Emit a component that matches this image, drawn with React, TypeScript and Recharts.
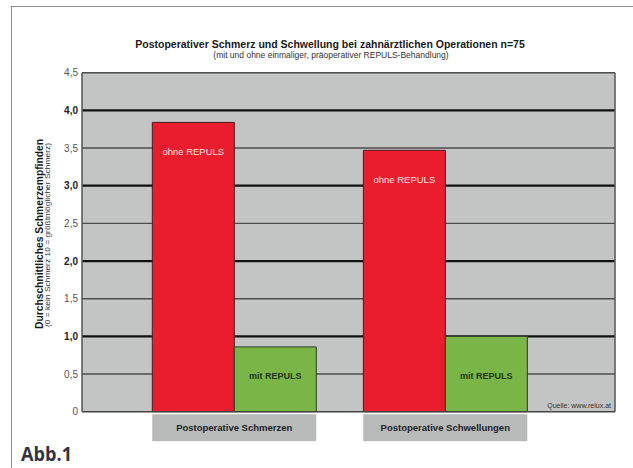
import React from 'react';
import { BarChart, Bar, XAxis, YAxis, CartesianGrid, LabelList } from 'recharts';

const categories = ['Postoperative Schmerzen', 'Postoperative Schwellungen'];
const ohneRepuls = [3.84, 3.47];
const mitRepuls = [0.86, 1.0];
const yTicks = [0, 0.5, 1, 1.5, 2, 2.5, 3, 3.5, 4, 4.5];
const majorTicks = [1, 2, 3, 4];
const minorTicks = [0.5, 1.5, 2.5, 3.5, 4.5];

const data = categories.map((name, i) => ({
  name,
  ohne: ohneRepuls[i],
  mit: mitRepuls[i],
}));

const FONT = '"Liberation Sans", Arial, Helvetica, sans-serif';

const fmt = (v: number) => (v === 0 ? '0' : v.toFixed(1).replace('.', ','));

const YTick = (props: any) => {
  const { x, y, payload } = props;
  const v = payload.value;
  const bold = Number.isInteger(v) && v !== 0;
  return (
    <text
      x={x}
      y={y}
      dy={3.5}
      textAnchor="end"
      fontFamily={FONT}
      fontSize={10}
      fontWeight={bold ? 'bold' : 'normal'}
      fill={bold ? '#1e1e1e' : '#555'}
    >
      {fmt(v)}
    </text>
  );
};

const XTick = (props: any) => {
  const { x, y, payload } = props;
  return (
    <g>
      <rect x={x - 82} y={y + 2.5} width={164} height={27} fill="#b8baba" />
      <text
        x={x}
        y={y + 16}
        dominantBaseline="central"
        textAnchor="middle"
        fontFamily={FONT}
        fontSize={9.5}
        fontWeight="bold"
        fill="#222"
      >
        {payload.value}
      </text>
    </g>
  );
};

const ohneLabel = (props: any) => {
  const { x, y, width } = props;
  return (
    <text
      x={x + width / 2}
      y={y + 29}
      dominantBaseline="central"
      textAnchor="middle"
      fontFamily={FONT}
      fontSize={9.5}
      fill="#fbe3e3"
    >
      ohne REPULS
    </text>
  );
};

const mitLabel = (props: any) => {
  const { x, y, width, height } = props;
  return (
    <text
      x={x + width / 2}
      y={y + height - 35.5}
      dominantBaseline="central"
      textAnchor="middle"
      fontFamily={FONT}
      fontSize={9}
      fontWeight="bold"
      fill="#1d3510"
    >
      mit REPULS
    </text>
  );
};

export default function App() {
  return (
    <div style={{ position: 'absolute', left: 0, top: 0, width: 633, height: 468, background: '#fff' }}>
      <BarChart
        width={633}
        height={468}
        data={data}
        margin={{ top: 72.7, right: 18, bottom: 0, left: 22 }}
        barCategoryGap={23.6}
        barGap={0}
      >
        <CartesianGrid
          fill="#c3c5c4"
          vertical={false}
          stroke="#4d4d4d"
          strokeWidth={1.4}
          strokeOpacity={1}
          horizontalValues={minorTicks}
        />
        <CartesianGrid
          vertical={false}
          stroke="#111"
          strokeWidth={2.2}
          horizontalValues={majorTicks}
        />
        <CartesianGrid
          horizontal={false}
          stroke="#555"
          strokeWidth={1.5}
          verticalCoordinatesGenerator={({ offset }: any) => [offset.left + offset.width]}
        />
        <XAxis
          dataKey="name"
          tickSize={0}
          tickMargin={0}
          padding={{ left: 46.7, right: 64.2 }}
          axisLine={{ stroke: '#444', strokeWidth: 1.5 }}
          tick={<XTick />}
          interval={0}
          height={56.3}
        />
        <YAxis
          domain={[0, 4.5]}
          ticks={yTicks}
          width={60}
          tickSize={0}
          tickMargin={4}
          axisLine={{ stroke: '#555', strokeWidth: 1.5 }}
          tick={<YTick />}
          interval={0}
        />
        <Bar dataKey="ohne" fill="#ea1d2f" stroke="#4a1a1a" strokeWidth={1} isAnimationActive={false}>
          <LabelList content={ohneLabel} />
        </Bar>
        <Bar dataKey="mit" fill="#7ab547" stroke="#2e3a24" strokeWidth={1} isAnimationActive={false}>
          <LabelList content={mitLabel} />
        </Bar>
      </BarChart>
      <svg
        width={633}
        height={468}
        style={{ position: 'absolute', left: 0, top: 0, pointerEvents: 'none' }}
        fontFamily={FONT}
      >
        <path d="M10.5,6.5 H633 M11.5,6.5 V468" stroke="#8c8c8c" strokeWidth={1} fill="none" />
        <text x={330} y={43.5} dominantBaseline="central" textAnchor="middle" fontSize={10.5} fontWeight="bold" fill="#1a1a1a">
          Postoperativer Schmerz und Schwellung bei zahnärztlichen Operationen n=75
        </text>
        <text x={331} y={55} dominantBaseline="central" textAnchor="middle" fontSize={8.5} fill="#333">
          (mit und ohne einmaliger, präoperativer REPULS-Behandlung)
        </text>
        <g transform="translate(39,234) rotate(-90)">
          <text x={0} y={0} dominantBaseline="central" textAnchor="middle" fontSize={10} fontWeight="bold" fill="#1a1a1a" textLength={190} lengthAdjust="spacingAndGlyphs">
            Durchschnittliches Schmerzempfinden
          </text>
        </g>
        <g transform="translate(47.5,235) rotate(-90)">
          <text x={0} y={0} dominantBaseline="central" textAnchor="middle" fontSize={8} fill="#333" textLength={184} lengthAdjust="spacingAndGlyphs">
            (0 = kein Schmerz  10 = größtmöglicher Schmerz)
          </text>
        </g>
        <text x={611} y={405} dominantBaseline="central" textAnchor="end" fontSize={7} fill="#333">
          Quelle: www.relux.at
        </text>
        <text x={21} y={461} fontFamily={'"Open Sans", "Noto Sans", sans-serif'} fontSize={19} fontWeight="bold" fill="#33333f" textLength={51} lengthAdjust="spacingAndGlyphs">
          Abb.1
        </text>
      </svg>
    </div>
  );
}
